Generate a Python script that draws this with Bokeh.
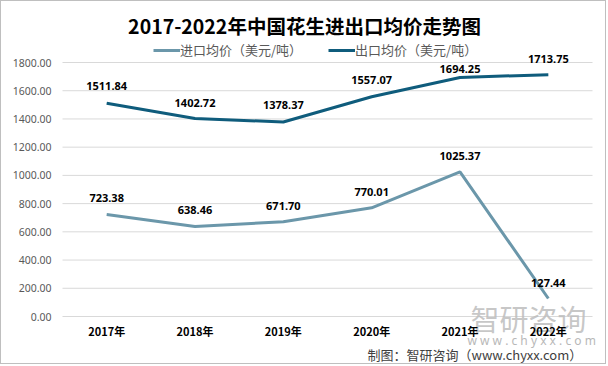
from bokeh.plotting import figure
from bokeh.models import (ColumnDataSource, LabelSet, Label, Legend, LegendItem, Range1d)
from bokeh.core.properties import value
from bokeh.embed import file_html
from bokeh.resources import INLINE

# ---- data ----
years = ["2017年", "2018年", "2019年", "2020年", "2021年", "2022年"]
import_price = [723.38, 638.46, 671.70, 770.01, 1025.37, 127.44]
export_price = [1511.84, 1402.72, 1378.37, 1557.07, 1694.25, 1713.75]
y_ticks = [0, 200, 400, 600, 800, 1000, 1200, 1400, 1600, 1800]
title_text = "2017-2022年中国花生进出口均价走势图"
import_name = "进口均价（美元/吨）"
export_name = "出口均价（美元/吨）"
source_text = "制图：智研咨询（www.chyxx.com）"
watermark_text = "智研咨询"
watermark_url = "\u00a0".join("www.chyxx.com")

# label offsets (style, px)
import_dy = [16, 16, 16, 16, 16, 16]
export_dy = [17, 16, 17, 17, 8, 16]

IMPORT_COLOR = "#6B97AA"
EXPORT_COLOR = "#0F5C7C"
CJK = "Noto Sans CJK SC"

# ---- layout (page pixels) ----
W, H = 606, 364          # canvas, plus 1px border on each side
LEFT, RIGHT, TOP, BOTTOM = 62, 592, 62, 316   # plot area
n = len(years)
y_max = y_ticks[-1]
kx = (RIGHT - LEFT) / n
ky = (BOTTOM - TOP) / y_max
x_range = Range1d((1 - LEFT) / kx, (1 + W - LEFT) / kx)
y_range = Range1d((BOTTOM - (1 + H)) / ky, (BOTTOM - 1) / ky)

p = figure(width=W, height=H, x_range=x_range, y_range=y_range,
           output_backend="svg", toolbar_location=None,
           x_axis_location=None, y_axis_location=None, min_border=0)
p.outline_line_color = None
p.grid.visible = False
p.background_fill_color = "white"
p.border_fill_color = "white"
p.styles = {"border": "1px solid #BFBFBF"}

xc = [i + 0.5 for i in range(n)]

# gridlines
p.segment(x0=[0] * len(y_ticks), x1=[n] * len(y_ticks), y0=y_ticks, y1=y_ticks,
          line_color="#D9D9D9", line_width=1)

# y tick labels
ysrc = ColumnDataSource(dict(x=[0] * len(y_ticks), y=y_ticks,
                             t=[f"{v:.2f}" for v in y_ticks]))
p.add_layout(LabelSet(x="x", y="y", text="t", source=ysrc, x_offset=-11,
                      text_align="right", text_baseline="middle",
                      text_font=value("Noto Sans"), text_font_size="10.5px",
                      text_color="#595959"))

# watermark
p.add_layout(Label(x=469, y=48, x_units="screen", y_units="screen", text=watermark_text,
                   text_font=CJK, text_font_size="29px", text_color="#BDBDBD",
                   text_alpha=0.85, text_baseline="middle", text_align="left"))
wsrc = ColumnDataSource(dict(x=[466], y=[25], t=[watermark_url]))
p.add_layout(LabelSet(x="x", y="y", text="t", source=wsrc, x_units="screen", y_units="screen",
                      text_align="left", text_baseline="middle",
                      text_font=value("Noto Sans"), text_font_size="12px",
                      text_color="#B8B8B8"))

# x tick labels
xsrc = ColumnDataSource(dict(x=xc, y=[0] * n, t=years))
p.add_layout(LabelSet(x="x", y="y", text="t", source=xsrc, y_offset=-14,
                      text_align="center", text_baseline="middle",
                      text_font=value(CJK), text_font_style="bold",
                      text_font_size="11px", text_color="black"))

# lines
r_imp = p.line(xc, import_price, line_width=3, color=IMPORT_COLOR)
r_exp = p.line(xc, export_price, line_width=3, color=EXPORT_COLOR)

# data labels
for vals, dys in ((import_price, import_dy), (export_price, export_dy)):
    src = ColumnDataSource(dict(x=xc, y=vals, t=[f"{v:.2f}" for v in vals], dy=dys))
    p.add_layout(LabelSet(x="x", y="y", text="t", y_offset="dy", source=src,
                          text_align="center", text_baseline="middle",
                          text_font=value("Noto Sans"), text_font_style="bold",
                          text_font_size="11px", text_color="black"))

# title
p.add_layout(Label(x=303, y=340, x_units="screen", y_units="screen", text=title_text,
                   text_font=CJK, text_font_style="bold", text_font_size="19.5px",
                   text_color="black", text_align="center", text_baseline="middle"))

# legend
legend = Legend(items=[LegendItem(label=import_name, renderers=[r_imp]),
                       LegendItem(label=export_name, renderers=[r_exp])],
                orientation="horizontal", location=(152, 306),
                glyph_width=27, glyph_height=14, label_standoff=0, spacing=26,
                padding=0, margin=0, border_line_color=None, background_fill_alpha=0,
                label_text_font=CJK, label_text_font_size="13px",
                label_text_color="#595959")
p.add_layout(legend, "center")

# source note
p.add_layout(Label(x=366, y=11, x_units="screen", y_units="screen", text=source_text,
                   text_font=CJK, text_font_size="13px", text_color="#404040",
                   text_align="left", text_baseline="middle"))

open("out.html", "w").write(file_html(p, INLINE))
